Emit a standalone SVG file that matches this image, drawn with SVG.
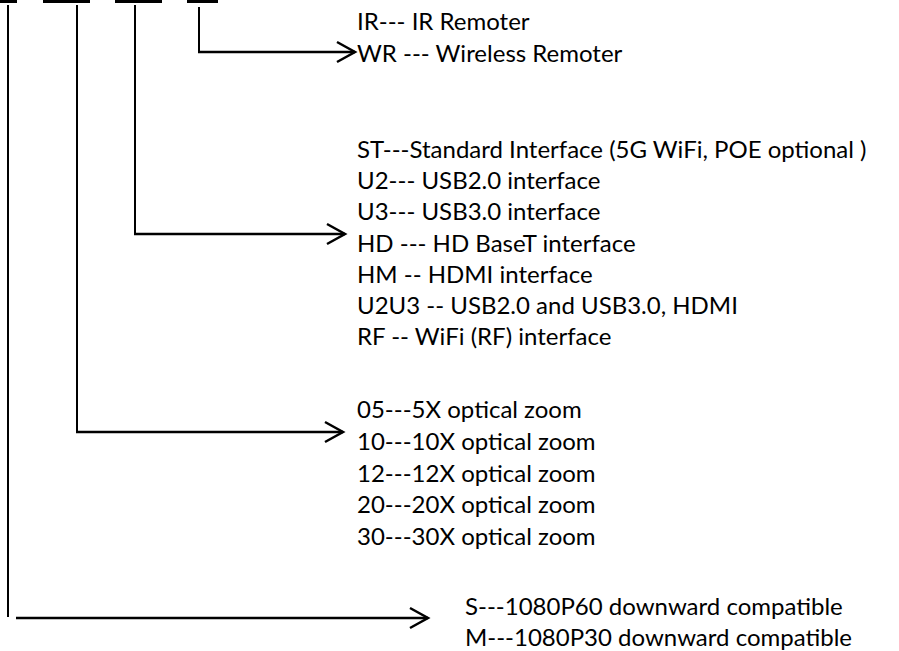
<svg xmlns="http://www.w3.org/2000/svg" width="899" height="651" viewBox="0 0 899 651">
<style>
  text { font-family: Lato, "Open Sans", "Liberation Sans", sans-serif; font-size: 24px; fill: #000; }
  .bar { fill: #000; }
  .conn { fill: none; stroke: #000; stroke-width: 2; }
  .harrow { fill: none; stroke: #000; stroke-width: 2.5; marker-end: url(#arr); }
</style>
<defs>
  <marker id="arr" markerUnits="userSpaceOnUse" markerWidth="24" markerHeight="24" viewBox="-20 -12 24 24" refX="0" refY="0" orient="auto" overflow="visible">
    <path d="M -18 -10 L 0 0 L -18 10" fill="none" stroke="#000" stroke-width="2.5"/>
  </marker>
</defs>
<rect width="899" height="651" fill="#fff"/>
<g id="bars">
  <rect class="bar" x="0" y="0" width="17" height="3"/>
  <rect class="bar" x="43" y="0" width="47" height="3"/>
  <rect class="bar" x="115" y="0" width="47" height="3"/>
  <rect class="bar" x="187" y="0" width="31" height="3"/>
</g>
<g id="connectors">
  <path class="conn" d="M 199 7 V 52"/>
  <path class="harrow" d="M 198 52 H 355"/>
  <path class="conn" d="M 135 5 V 234"/>
  <path class="harrow" d="M 134 234 H 345"/>
  <path class="conn" d="M 77 5 V 432"/>
  <path class="harrow" d="M 76 432 H 343"/>
  <path class="conn" d="M 8 5 V 617"/>
  <path class="harrow" d="M 16 618 H 428"/>
</g>
<g id="remote">
  <text x="357" y="30">IR--- IR Remoter</text>
  <text x="357" y="62">WR --- Wireless Remoter</text>
</g>
<g id="interface">
  <text x="357" y="158">ST---Standard Interface (5G WiFi, POE optional )</text>
  <text x="357" y="189">U2--- USB2.0 interface</text>
  <text x="357" y="220">U3--- USB3.0 interface</text>
  <text x="357" y="252">HD --- HD BaseT interface</text>
  <text x="357" y="283">HM -- HDMI interface</text>
  <text x="357" y="314">U2U3 -- USB2.0 and USB3.0, HDMI</text>
  <text x="357" y="345">RF -- WiFi (RF) interface</text>
</g>
<g id="zoom">
  <text x="357" y="418">05---5X optical zoom</text>
  <text x="357" y="450">10---10X optical zoom</text>
  <text x="357" y="482">12---12X optical zoom</text>
  <text x="357" y="513">20---20X optical zoom</text>
  <text x="357" y="545">30---30X optical zoom</text>
</g>
<g id="resolution">
  <text x="465" y="615">S---1080P60 downward compatible</text>
  <text x="465" y="646">M---1080P30 downward compatible</text>
</g>
</svg>
